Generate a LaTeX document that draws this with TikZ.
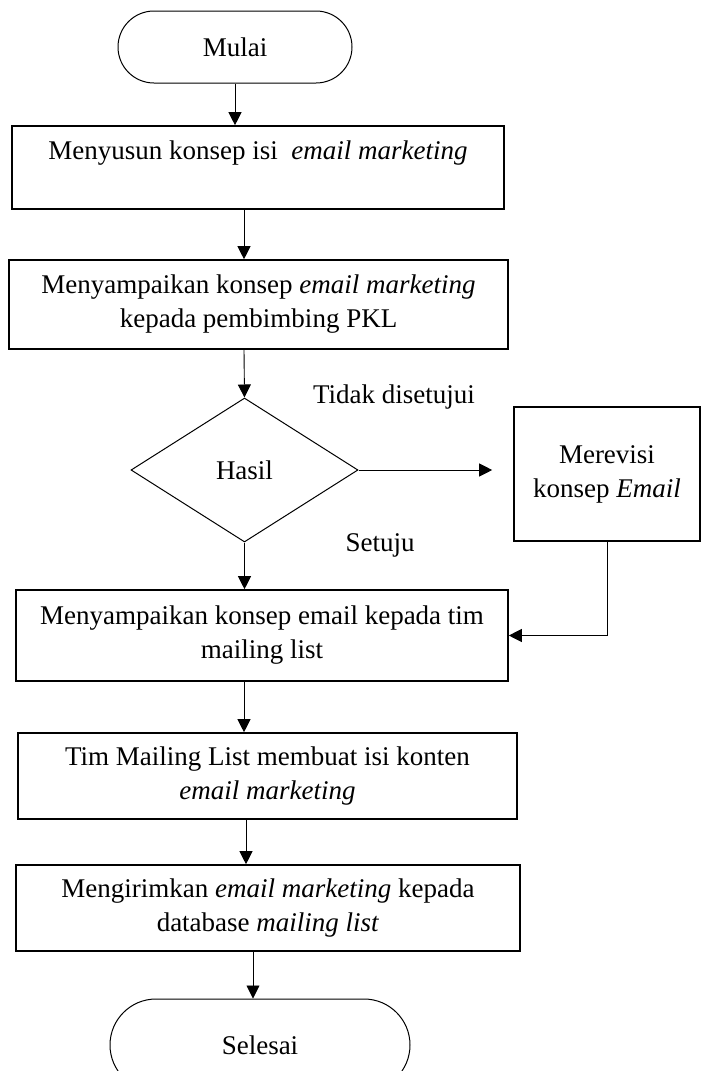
\documentclass[tikz,border=0pt]{standalone}
\usepackage{fontspec}
\setmainfont{Liberation Serif}
\usetikzlibrary{arrows.meta,shapes.geometric,shapes.misc}

\begin{document}
\begin{tikzpicture}[x=1pt,y=-1pt,
	every node/.style={font=\fontsize{27}{34}\selectfont, align=center, inner sep=0pt},
	proses/.style={draw, rectangle, line width=1.6pt},
	terminal/.style={draw, rounded rectangle, line width=1pt},
	keputusan/.style={draw, diamond, line width=1pt},
	panah/.style={line width=0.9pt, -{Triangle[length=13pt,width=13pt]}}]

	\useasboundingbox (0,0) rectangle (701,1071);

	\coordinate (poros) at (244,0);

	\node[terminal, minimum width=234pt, minimum height=72pt] (mulai) at (235,47) {Mulai};
	\node[proses, minimum width=492pt, minimum height=83pt] (susun) at (258,167.5) {Menyusun konsep isi~ \emph{email marketing}\\\mbox{}};
	\node[proses, minimum width=499pt, minimum height=89pt] (sampaikan) at (258.5,304.5) {Menyampaikan konsep \emph{email marketing}\\kepada pembimbing PKL};
	\node[keputusan, minimum width=227pt, minimum height=144pt] (hasil) at (244.5,470) {Hasil};
	\node[proses, minimum width=186pt, minimum height=134pt] (revisi) at (607,474) {Merevisi\\konsep \emph{Email}};
	\node[proses, minimum width=492pt, minimum height=91pt] (tim) at (262,635.5) {Menyampaikan konsep email kepada tim\\mailing list};
	\node[proses, minimum width=499pt, minimum height=86pt] (konten) at (267.5,776) {Tim Mailing List membuat isi konten\\\emph{email marketing}};
	\node[proses, minimum width=504pt, minimum height=86pt] (kirim) at (268,908) {Mengirimkan \emph{email marketing} kepada\\database \emph{mailing list}};
	\node[terminal, minimum width=300pt, minimum height=92pt] (selesai) at (260,1045) {Selesai};

	% keterangan cabang
	\node (tolak) at (394,397) {Tidak disetujui};
	\node (setuju) at (380,545) {Setuju};

	\draw[panah] (mulai.south) -- (mulai.south |- susun.north);
	\draw[panah] (poros |- susun.south) -- (poros |- sampaikan.north);
	\draw[panah] (poros |- sampaikan.south) -- (hasil.north);
	\draw[panah] (hasil.east) -- ([xshift=-21pt]revisi.west |- hasil.east);
	\draw[panah] (hasil.south) -- (hasil.south |- tim.north);
	\draw[panah] (revisi.south) -- (revisi.south |- tim.east) -- (tim.east);
	\draw[panah] (poros |- tim.south) -- (poros |- konten.north);
	\draw[panah] ([xshift=2pt]poros |- konten.south) -- ([xshift=2pt]poros |- kirim.north);
	\draw[panah] ([xshift=-7pt]selesai.north |- kirim.south) -- ([xshift=-7pt]selesai.north);

\end{tikzpicture}
\end{document}
